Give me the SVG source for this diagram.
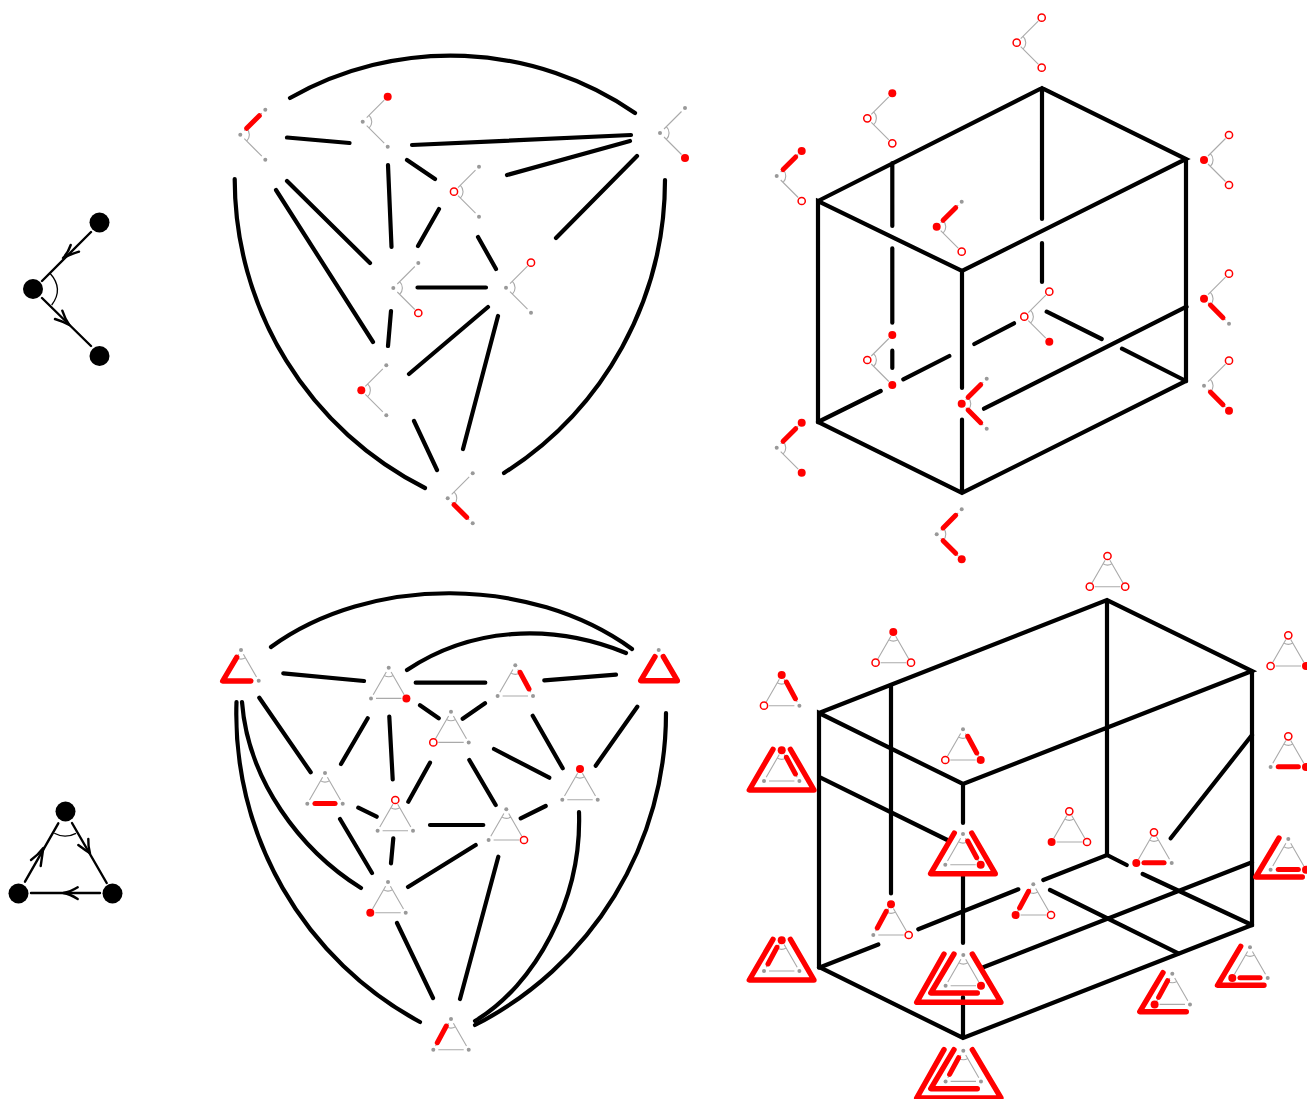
<svg xmlns="http://www.w3.org/2000/svg" width="1307" height="1099" viewBox="0 0 1307 1099">
<style>
.c{fill:none;stroke:#000;stroke-width:4.2;stroke-linecap:round}
.k{fill:none;stroke:#000;stroke-width:2.4;stroke-linecap:round;stroke-linejoin:round}
.n{fill:none;stroke:#000;stroke-width:1.3}
.g{fill:none;stroke:#aaa;stroke-width:1.1}
.r{fill:none;stroke:#f00;stroke-width:5;stroke-linecap:round;stroke-linejoin:round}
.q{fill:none;stroke:#f00;stroke-width:5.4;stroke-linecap:round;stroke-linejoin:round}
.b{fill:#000}
</style>
<defs>
<circle id="s" r="2" fill="#999"/>
<circle id="f" r="4" fill="#f00"/>
<circle id="o" r="3.6" fill="#fff" stroke="#f00" stroke-width="1.5"/>
<g id="v"><path class="g" d="M4 -4L21.5 -21.5M4 4L21.5 21.5M6.4 -6.4A9 9 0 0 1 6.4 6.4"/></g>
<path id="vu" class="r" d="M6.4 -6.4L19 -19"/>
<path id="vd" class="r" d="M6.4 6.4L19 19"/>
<g id="t"><path class="g" d="M-2.4 4.2L-15.5 27M2.4 4.2L15.5 27M-12.7 30.7H12.7M-4.5 7.8A9 9 0 0 0 4.5 7.8"/></g>
<path id="tr" class="r" d="M4.7 7L13.7 23.7"/>
<path id="tl" class="r" d="M-4.7 7L-13.7 23.7"/>
<path id="tb" class="r" d="M-10 30.5H10"/>
<path id="lb" class="q" d="M-4.3 7.3L-18.3 31H9.7"/>
<path id="tri" class="q" d="M-3.7 6.7L-18 30.7H18.7L4.6 6.7"/>
<path id="ring" class="q" d="M-8.7 -1L-32.4 39.7H32.3L8.7 -1"/>
<path id="ll" class="q" d="M-9.3 -1L-32.5 38H14"/>
<path id="oo" class="q" d="M-19.3 -1L-46.6 47.3H37.7L9 -1"/>
</defs>

<g id="connectors">
<!-- legend -->
<path class="k" d="M42 281L91 232M42 298L91 346"/>
<path class="k" d="M70.7 245Q68 253 63 258Q71 254 79 251.7M62.3 310.7Q65 319 69.3 325Q62 321 55 319"/>
<path class="n" d="M50 273.3Q64 289 51.7 305"/>
<path class="k" d="M25 881.7L58.3 823.3M72 823L106.7 883M100 893H31"/>
<path class="k" d="M31 860Q38 855 43.3 848Q42 857 40.7 866M78.3 845Q85 850 90 853.3Q88 846 88.3 839M77.7 887.3Q70 892 63.3 893Q70 894 77.7 899"/>
<path class="n" d="M54.3 833.3Q65 839 76 833.3"/>

<!-- top middle -->
<path class="c" d="M290 98A325 325 0 0 1 635 113"/>
<path class="c" d="M234.7 179A346 346 0 0 0 425 488"/>
<path class="c" d="M665 180A347 347 0 0 1 504 473"/>
<path class="c" d="M287 137.5L349.5 143M412 145L631 135M507 175L630 141M556 238L637 156M407 160L435 179M388 165L391.5 247M418 246L439 209M478 237L496 269M417.5 287.5H486M287 181L370 263M276 190L373 342M391 311L388 346M409 374L488 307M498 316L463 449M414 421L437 470"/>

<!-- top cube -->
<path class="c" d="M818 201L1042 88L1186 159L962 271L818 201V422L962 493L1186 381V159M962 271V388M962 419.5V493M1042 88V219M1042 243V282M892.3 163V226M892.3 248.3V322.7M892.3 350.7V368"/>
<path class="c" d="M818 422L880.7 391M903.3 379.3L949.3 356M974.3 344L1014 323.3M1046.7 311.7L1101.7 339M1122 348.7L1186 381M984 408.7L1186.5 306.7"/>

<!-- bottom middle -->
<path class="c" d="M271 647C370 575 530 575 632 649"/>
<path class="c" d="M407 670C470 628 550 622 626 653"/>
<path class="c" d="M236.5 702A350 350 0 0 0 420 1022"/>
<path class="c" d="M242 702C248 780 300 850 361 888"/>
<path class="c" d="M666 713A350 350 0 0 1 475 1025"/>
<path class="c" d="M579 812C582 900 535 985 475 1021"/>
<path class="c" d="M283.3 673.3L364 681M415.7 682.7H485.3M544.3 680.3L616 674.7M420 705.3L438.7 718.3M462.7 718.7L485 703.3M259.3 697.7L310.7 772.3M341 764L367.7 718.3M389.3 716.7L392.7 779.3M408.3 801.7L430 762.7M469.3 760L495.7 805M358.3 807.7L376.7 816.7M430 825H483.3M340 819L372 873M393.3 838.3L391 863.3M408 887L475.7 845M498.3 856.7L460 999M397 923L433 998M494 749L549.3 777.7M532.7 715.7L562.7 768.3M595.7 765.7L637.3 706.7M520.7 818.3L545.7 806"/>

<!-- bottom cube -->
<path class="c" d="M819 713L1107 600L1252 671L963 784L819 713V967L963 1038L1252 925V671M1107 600V855M963 784V823M963 876V943M963 997V1038M891 685V893.5"/>
<path class="c" d="M819 967.7L878.3 944.5M918.3 929.3L1018.3 889.3M1043.3 880L1107 855L1126.7 865M1142.7 874L1252 925M1252 862.3L983.3 967.3M820 777.3L947.3 840M1050 890L1178.3 953.3M1170.7 838.3L1252 735"/>
</g>

<g id="legend-v"><circle class="b" cx="33" cy="289" r="10"/><circle class="b" cx="99.5" cy="222.5" r="10"/><circle class="b" cx="99.5" cy="356" r="10"/></g>
<g id="legend-t"><circle class="b" cx="65.5" cy="811.5" r="10"/><circle class="b" cx="18.5" cy="893.5" r="10"/><circle class="b" cx="112.5" cy="893.5" r="10"/></g>

<!-- top middle glyphs -->
<g id="a1" transform="translate(240.3 134.7)"><use href="#v"/><use href="#vu"/><use href="#s"/><use href="#s" x="25" y="-25"/><use href="#s" x="25" y="25"/></g>
<g id="a2" transform="translate(362.7 121.7)"><use href="#v"/><use href="#s"/><use href="#f" x="25" y="-25"/><use href="#s" x="25" y="25"/></g>
<g id="a3" transform="translate(454 191.7)"><use href="#v"/><use href="#o"/><use href="#s" x="25" y="-25"/><use href="#s" x="25" y="25"/></g>
<g id="a4" transform="translate(393.3 288)"><use href="#v"/><use href="#s"/><use href="#s" x="25" y="-25"/><use href="#o" x="25" y="25"/></g>
<g id="a5" transform="translate(506 287.7)"><use href="#v"/><use href="#s"/><use href="#o" x="25" y="-25"/><use href="#s" x="25" y="25"/></g>
<g id="a6" transform="translate(361.3 390.3)"><use href="#v"/><use href="#f"/><use href="#s" x="25" y="-25"/><use href="#s" x="25" y="25"/></g>
<g id="a7" transform="translate(447.7 498.3)"><use href="#v"/><use href="#vd"/><use href="#s"/><use href="#s" x="25" y="-25"/><use href="#s" x="25" y="25"/></g>
<g id="a8" transform="translate(660 133)"><use href="#v"/><use href="#s"/><use href="#s" x="25" y="-25"/><use href="#f" x="25" y="25"/></g>

<!-- top cube glyphs -->
<g id="b1" transform="translate(1016.7 42.7)"><use href="#v"/><use href="#o"/><use href="#o" x="25" y="-25"/><use href="#o" x="25" y="25"/></g>
<g id="b2" transform="translate(867.3 118.3)"><use href="#v"/><use href="#o"/><use href="#f" x="25" y="-25"/><use href="#o" x="25" y="25"/></g>
<g id="b3" transform="translate(776.7 176)"><use href="#v"/><use href="#vu"/><use href="#s"/><use href="#f" x="25" y="-25"/><use href="#o" x="25" y="25"/></g>
<g id="b4" transform="translate(936.7 226.7)"><use href="#v"/><use href="#vu"/><use href="#f"/><use href="#s" x="25" y="-25"/><use href="#o" x="25" y="25"/></g>
<g id="b5" transform="translate(1204 160)"><use href="#v"/><use href="#f"/><use href="#o" x="25" y="-25"/><use href="#o" x="25" y="25"/></g>
<g id="b6" transform="translate(1204 298.7)"><use href="#v"/><use href="#vd"/><use href="#f"/><use href="#o" x="25" y="-25"/><use href="#s" x="25" y="25"/></g>
<g id="b7" transform="translate(1204 385.7)"><use href="#v"/><use href="#vd"/><use href="#s"/><use href="#o" x="25" y="-25"/><use href="#f" x="25" y="25"/></g>
<g id="b8" transform="translate(1024.3 316.7)"><use href="#v"/><use href="#o"/><use href="#o" x="25" y="-25"/><use href="#f" x="25" y="25"/></g>
<g id="b9" transform="translate(867.3 360)"><use href="#v"/><use href="#o"/><use href="#f" x="25" y="-25"/><use href="#f" x="25" y="25"/></g>
<g id="b10" transform="translate(961.7 403.7)"><use href="#v"/><use href="#vu"/><use href="#vd"/><use href="#f"/><use href="#s" x="25" y="-25"/><use href="#s" x="25" y="25"/></g>
<g id="b11" transform="translate(776.7 447.7)"><use href="#v"/><use href="#vu"/><use href="#s"/><use href="#f" x="25" y="-25"/><use href="#f" x="25" y="25"/></g>
<g id="b12" transform="translate(936.7 534.3)"><use href="#v"/><use href="#vu"/><use href="#vd"/><use href="#s"/><use href="#s" x="25" y="-25"/><use href="#f" x="25" y="25"/></g>

<!-- bottom middle glyphs -->
<g id="c1" transform="translate(241 650)"><use href="#t"/><use href="#lb"/><use href="#s"/><use href="#s" x="17.7" y="30.7"/></g>
<g id="c2" transform="translate(388.7 667.7)"><use href="#t"/><use href="#s"/><use href="#s" x="-17.7" y="30.7"/><use href="#f" x="17.7" y="30.7"/></g>
<g id="c3" transform="translate(515.3 665.3)"><use href="#t"/><use href="#tr"/><use href="#s"/><use href="#s" x="-17.7" y="30.7"/><use href="#s" x="17.7" y="30.7"/></g>
<g id="c4" transform="translate(658.7 650)"><use href="#tri"/><use href="#s"/></g>
<g id="c5" transform="translate(451 711.7)"><use href="#t"/><use href="#s"/><use href="#o" x="-17.7" y="30.7"/><use href="#s" x="17.7" y="30.7"/></g>
<g id="c6" transform="translate(325 773)"><use href="#t"/><use href="#tb"/><use href="#s"/><use href="#s" x="-17.7" y="30.7"/><use href="#s" x="17.7" y="30.7"/></g>
<g id="c7" transform="translate(395.3 800)"><use href="#t"/><use href="#o"/><use href="#s" x="-17.7" y="30.7"/><use href="#s" x="17.7" y="30.7"/></g>
<g id="c8" transform="translate(506.3 809.3)"><use href="#t"/><use href="#s"/><use href="#s" x="-17.7" y="30.7"/><use href="#o" x="17.7" y="30.7"/></g>
<g id="c9" transform="translate(580 769)"><use href="#t"/><use href="#f"/><use href="#s" x="-17.7" y="30.7"/><use href="#s" x="17.7" y="30.7"/></g>
<g id="c10" transform="translate(388 882)"><use href="#t"/><use href="#s"/><use href="#f" x="-17.7" y="30.7"/><use href="#s" x="17.7" y="30.7"/></g>
<g id="c11" transform="translate(451 1019)"><use href="#t"/><use href="#tl"/><use href="#s"/><use href="#s" x="-17.7" y="30.7"/><use href="#s" x="17.7" y="30.7"/></g>

<!-- bottom cube glyphs -->
<g id="d1" transform="translate(1107.5 556)"><use href="#t"/><use href="#o"/><use href="#o" x="-17.7" y="30.7"/><use href="#o" x="17.7" y="30.7"/></g>
<g id="d2" transform="translate(893.3 632)"><use href="#t"/><use href="#f"/><use href="#o" x="-17.7" y="30.7"/><use href="#o" x="17.7" y="30.7"/></g>
<g id="d3" transform="translate(781.7 675)"><use href="#t"/><use href="#tr"/><use href="#f"/><use href="#o" x="-17.7" y="30.7"/><use href="#s" x="17.7" y="30.7"/></g>
<g id="d4" transform="translate(781.7 750.3)"><use href="#t"/><use href="#tr"/><use href="#ring"/><use href="#f"/><use href="#s" x="-17.7" y="30.7"/><use href="#s" x="17.7" y="30.7"/></g>
<g id="d5" transform="translate(963 729.3)"><use href="#t"/><use href="#tr"/><use href="#s"/><use href="#o" x="-17.7" y="30.7"/><use href="#f" x="17.7" y="30.7"/></g>
<g id="d6" transform="translate(963 834)"><use href="#t"/><use href="#tr"/><use href="#ring"/><use href="#s"/><use href="#s" x="-17.7" y="30.7"/><use href="#f" x="17.7" y="30.7"/></g>
<g id="d7" transform="translate(1288.3 635.3)"><use href="#t"/><use href="#o"/><use href="#o" x="-17.7" y="30.7"/><use href="#f" x="17.7" y="30.7"/></g>
<g id="d8" transform="translate(1288.3 736.3)"><use href="#t"/><use href="#tb"/><use href="#o"/><use href="#s" x="-17.7" y="30.7"/><use href="#f" x="17.7" y="30.7"/></g>
<g id="d9" transform="translate(1288.3 839)"><use href="#t"/><use href="#tb"/><use href="#ll"/><use href="#s"/><use href="#s" x="-17.7" y="30.7"/><use href="#f" x="17.7" y="30.7"/></g>
<g id="d10" transform="translate(1069.3 811.3)"><use href="#t"/><use href="#o"/><use href="#f" x="-17.7" y="30.7"/><use href="#o" x="17.7" y="30.7"/></g>
<g id="d11" transform="translate(1154 832.3)"><use href="#t"/><use href="#tb"/><use href="#o"/><use href="#f" x="-17.7" y="30.7"/><use href="#s" x="17.7" y="30.7"/></g>
<g id="d12" transform="translate(1033.3 884.3)"><use href="#t"/><use href="#tl"/><use href="#s"/><use href="#f" x="-17.7" y="30.7"/><use href="#o" x="17.7" y="30.7"/></g>
<g id="d13" transform="translate(891 904.3)"><use href="#t"/><use href="#tl"/><use href="#f"/><use href="#s" x="-17.7" y="30.7"/><use href="#o" x="17.7" y="30.7"/></g>
<g id="d14" transform="translate(781.7 940.3)"><use href="#t"/><use href="#tl"/><use href="#ring"/><use href="#f"/><use href="#s" x="-17.7" y="30.7"/><use href="#s" x="17.7" y="30.7"/></g>
<g id="d15" transform="translate(963.3 955)"><use href="#t"/><use href="#ll"/><use href="#oo"/><use href="#s"/><use href="#s" x="-17.7" y="30.7"/><use href="#f" x="17.7" y="30.7"/></g>
<g id="d16" transform="translate(963.3 1050.7)"><use href="#t"/><use href="#tl"/><use href="#ll"/><use href="#oo"/><use href="#s"/><use href="#s" x="-17.7" y="30.7"/><use href="#s" x="17.7" y="30.7"/></g>
<g id="d17" transform="translate(1250 947.3)"><use href="#t"/><use href="#tb"/><use href="#ll"/><use href="#s"/><use href="#f" x="-17.7" y="30.7"/><use href="#s" x="17.7" y="30.7"/></g>
<g id="d18" transform="translate(1172.3 973.7)"><use href="#t"/><use href="#tl"/><use href="#ll"/><use href="#s"/><use href="#f" x="-17.7" y="30.7"/><use href="#s" x="17.7" y="30.7"/></g>
</svg>
